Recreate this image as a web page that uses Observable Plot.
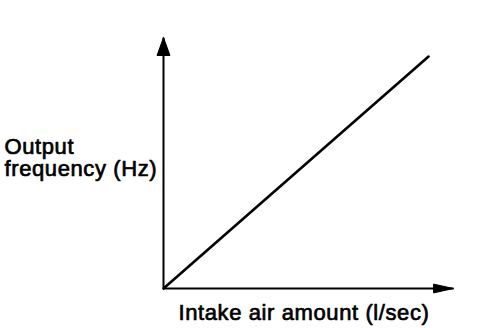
<!DOCTYPE html>
<html>
<head>
<meta charset="utf-8">
<script src="https://cdn.jsdelivr.net/npm/d3@7"></script>
<script src="https://cdn.jsdelivr.net/npm/@observablehq/plot@0.6"></script>
<style>
  html, body { margin: 0; padding: 0; background: #fff; }
  #chart svg { display: block; }
</style>
</head>
<body>
<div id="chart"></div>
<script>
// Data (arbitrary units: a straight proportional relationship)
const intakeAir = [0, 9.14];          // x: intake air amount (l/sec)
const outputFreq = [0, 9.24];         // y: output frequency (Hz)
const axisMax = [10, 10];             // axis extents (x, y)
const xLabel = "Intake air amount (l/sec)";
const yLabel = "Output\nfrequency (Hz)";

const lineData = intakeAir.map((x, i) => ({x, y: outputFreq[i]}));
const xAxis = [{x1: 0, y1: 0, x2: axisMax[0], y2: 0}];
const yAxis = [{x1: 0, y1: 0, x2: 0, y2: axisMax[1]}];

// narrow filled arrowhead: tip at the anchor, base behind it
const makeHead = (w) => ({
  draw(ctx, size) {
    const s = Math.sqrt(size / Math.PI);
    ctx.moveTo(0, 0);
    ctx.lineTo(-s * w, s);
    ctx.lineTo(s * w, s);
    ctx.closePath();
  }
});

const textStyle = {fontSize: 22, fill: "#000", stroke: "#000", strokeWidth: 0.7, textAnchor: "start"};

const chart = Plot.plot({
  width: 496,
  height: 328,
  marginLeft: 163,
  marginRight: 43,
  marginTop: 37,
  marginBottom: 40,
  x: {domain: [0, axisMax[0]], axis: null},
  y: {domain: [0, axisMax[1]], axis: null},
  style: {fontFamily: "'Liberation Sans', Arial, sans-serif", background: "#fff", color: "#000", letterSpacing: "0.6px"},
  marks: [
    Plot.link([...xAxis, ...yAxis], {x1: "x1", y1: "y1", x2: "x2", y2: "y2", stroke: "#000", strokeWidth: 2}),
    Plot.dot(yAxis, {x: "x2", y: "y2", symbol: makeHead(0.36), r: 18, fill: "#000", stroke: "#000", strokeWidth: 1}),
    Plot.dot(xAxis, {x: "x2", y: "y2", symbol: makeHead(0.22), r: 20, fill: "#000", stroke: "#000", strokeWidth: 1, rotate: 90}),
    Plot.line(lineData, {x: "x", y: "y", stroke: "#000", strokeWidth: 2.6}),
    Plot.text([xLabel], {...textStyle, frameAnchor: "bottom-left", dx: 15, dy: 24, text: d => d, lineAnchor: "middle"}),
    Plot.text([yLabel], {...textStyle, frameAnchor: "left", dx: -159, dy: -25, text: d => d, lineAnchor: "top", lineHeight: 1.02})
  ]
});
document.getElementById("chart").appendChild(chart);
</script>
</body>
</html>
